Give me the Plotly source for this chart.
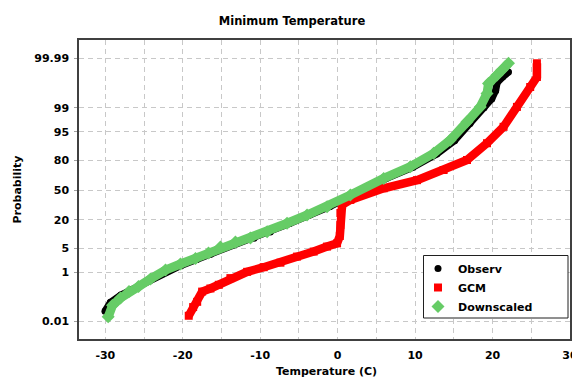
import plotly.graph_objects as go
from statistics import NormalDist

# ---- data (temperature in C, cumulative probability in %) ----
obs_temp = [-30.05, -29.35, -28.0, -26.5, -25.5, -23.9, -22.0, -20.2, -18.2, -16.4,
            -14.8, -12.8, -10.8, -8.7, -6.2, -3.6, -1.0, 2.0, 6.2, 9.7,
            12.8, 15.1, 17.1, 18.9, 19.9, 20.4, 20.6, 21.3, 22.06]
obs_prob = [0.031, 0.075, 0.15, 0.25, 0.36, 0.62, 1.15, 1.65, 2.5, 3.5,
            5.0, 6.9, 8.7, 11.8, 17.2, 24.0, 32.0, 44.5, 62.5, 74.0,
            84.5, 91.8, 97.0, 99.0, 99.5, 99.75, 99.88, 99.93, 99.957]

gcm_temp = [-19.23, -18.66, -18.14, -17.50, -16.43, -15.35, -13.85, -11.69, -9.55, -7.39,
            -5.24, -3.10, -1.37, -0.08, 0.28, 0.35, 0.35, 0.57, 1.64, 5.94,
            10.25, 13.68, 16.70, 19.28, 21.42, 23.15, 24.86, 25.73, 25.73]
gcm_prob = [0.019, 0.047, 0.079, 0.205, 0.27, 0.37, 0.64, 1.04, 1.46, 2.0,
            3.0, 4.1, 5.5, 6.6, 9.7, 16.1, 25.8, 33.7, 39.0, 52.0,
            61.0, 71.4, 80.2, 90.7, 96.3, 99.06, 99.82, 99.93, 99.983]

ds_temp = [-29.63, -29.07, -28.04, -26.94, -25.72, -24.17, -22.23, -20.30, -18.36, -16.68,
           -15.14, -13.2, -11.26, -9.11, -6.53, -3.95, -1.37, 1.64, 5.94, 9.38,
           12.39, 14.54, 16.70, 18.41, 19.28, 19.48, 20.57, 21.21, 22.06]
ds_prob = [0.017, 0.056, 0.114, 0.205, 0.317, 0.60, 1.19, 1.83, 2.65, 3.75,
           5.37, 7.1, 8.76, 11.9, 17.4, 24.0, 31.9, 44.4, 62.9, 74.5,
           85.0, 92.1, 97.3, 99.06, 99.68, 99.87, 99.942, 99.965, 99.983]

tick_probs = [0.01, 1, 5, 20, 50, 80, 95, 99, 99.99]
tick_labels = ["0.01", "1", "5", "20", "50", "80", "95", "99", "99.99"]
x_ticks = [-30, -20, -10, 0, 10, 20, 30]

# normal-probability scale
nd = NormalDist()
def probit(values):
    return [nd.inv_cdf(v / 100.0) for v in values]

FONT = "DejaVu Sans"
fig = go.Figure()

series = [
    ("Observ", obs_temp, obs_prob, "#000000", "circle", 7, 7),
    ("GCM", gcm_temp, gcm_prob, "#ff0000", "square", 8, 8.5),
    ("Downscaled", ds_temp, ds_prob, "#66cc66", "diamond", 10, 9),
]
for name, t, p, col, sym, msize, lw in series:
    fig.add_trace(go.Scatter(x=t, y=probit(p), mode="lines", showlegend=False,
                             line=dict(color=col, width=lw), hoverinfo="skip"))
    fig.add_trace(go.Scatter(x=t, y=probit(p), mode="markers", name=name,
                             marker=dict(color=col, symbol=sym, size=msize,
                                         line=dict(width=0))))

grid = dict(gridcolor="#c8c8c8", griddash="5px,4px", gridwidth=1)

fig.update_xaxes(range=[-33.4, 30], tickvals=x_ticks, ticktext=[str(v) for v in x_ticks],
                 showgrid=True, **grid,
                 minor=dict(dtick=5, tick0=0, showgrid=True, gridcolor="#c8c8c8",
                            griddash="5px,4px", ticks=""),
                 showline=True, linecolor="#404040", linewidth=1.5, mirror=True,
                 zeroline=False, ticks="", ticklabelstandoff=5,
                 ticklabeloverflow="allow", automargin=False,
                 tickfont=dict(family=FONT, size=11, color="#000", weight="bold"))
fig.update_yaxes(range=[-4.21, 4.24], tickvals=probit(tick_probs), ticktext=tick_labels,
                 showgrid=True, **grid,
                 showline=True, linecolor="#404040", linewidth=1.5, mirror=True,
                 zeroline=False, ticks="outside", ticklen=3, tickcolor="#a0a0a0",
                 ticklabelstandoff=3, automargin=False,
                 tickfont=dict(family=FONT, size=11, color="#000", weight="bold"))

fig.update_layout(
    width=572, height=377,
    margin=dict(l=79, r=2, t=40, b=38),
    paper_bgcolor="white", plot_bgcolor="white",
    title=dict(text="Minimum Temperature", x=292/572, xref="container", xanchor="center",
               y=1 - 21/377, yref="container", yanchor="middle",
               font=dict(family=FONT, size=11.5, color="#000", weight="bold")),
    showlegend=True,
    legend=dict(x=(418-79)/491, y=(339-254)/299, xanchor="left", yanchor="top",
                bgcolor="rgba(0,0,0,0)", borderwidth=0, tracegroupgap=0,
                font=dict(family=FONT, size=11, color="#000", weight="bold"),
                itemwidth=30),
    shapes=[dict(type="rect", xref="paper", yref="paper",
                 x0=(423.5-79)/491, x1=(568-79)/491,
                 y0=(339-318)/299, y1=(339-255.5)/299,
                 line=dict(color="#202020", width=1), fillcolor="white", layer="above")],
    annotations=[
        dict(text="Temperature (C)", xref="paper", yref="paper", x=0.505, y=(339-371)/299,
             xanchor="center", yanchor="middle", showarrow=False,
             font=dict(family=FONT, size=11, color="#000", weight="bold")),
        dict(text="Probability", xref="paper", yref="paper", x=(17-79)/491, y=0.5,
             xanchor="center", yanchor="middle", showarrow=False, textangle=-90,
             font=dict(family=FONT, size=11, color="#000", weight="bold")),
    ],
)

fig.write_html("out.html")
